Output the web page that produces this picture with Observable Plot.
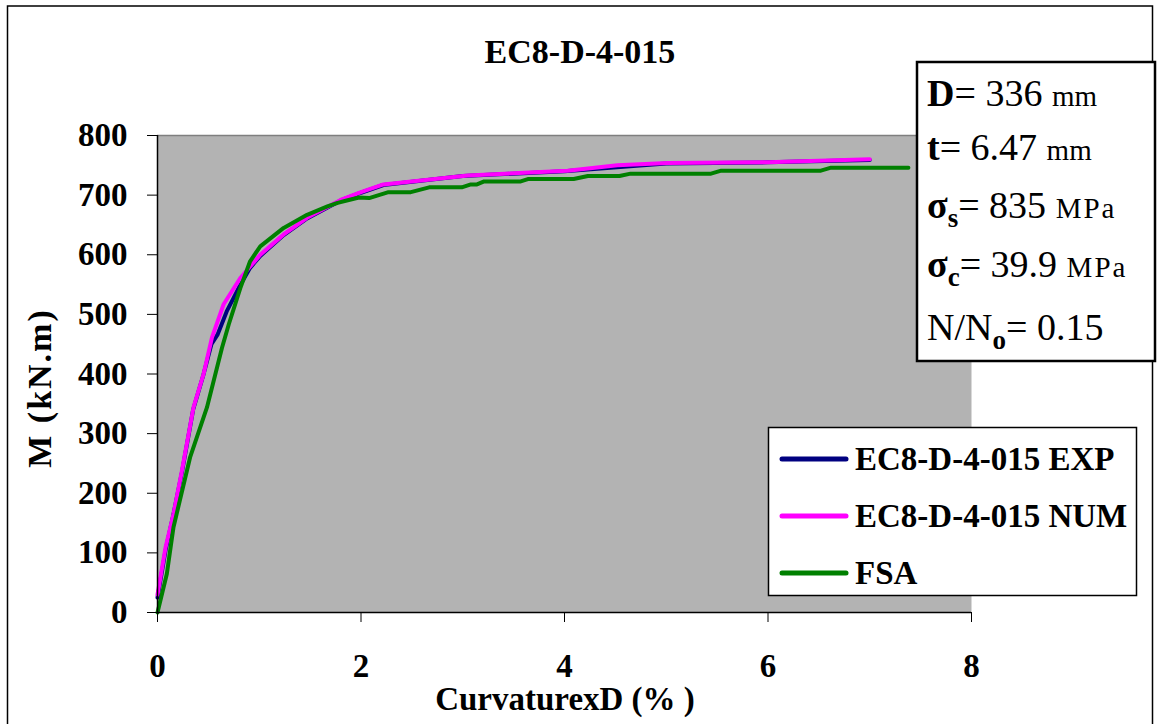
<!DOCTYPE html>
<html><head><meta charset="utf-8">
<script src="https://cdn.jsdelivr.net/npm/d3@7"></script>
<script src="https://cdn.jsdelivr.net/npm/@observablehq/plot@0.6"></script>
<style>
body{margin:0;background:#fff;}
#wrap{position:relative;width:1160px;height:724px;overflow:hidden;font-family:"Liberation Serif","Times New Roman",serif;color:#000;background:#fff;}
#chart{position:absolute;left:0;top:0;}
#over{position:absolute;left:0;top:0;}
</style></head><body>
<div id="wrap"><div id="chart"></div>
<svg id="over" width="1160" height="724" font-family="Liberation Serif, Times New Roman, serif"></svg>
</div>
<script>
// ---- data (curvature x D in %, moment in kN.m) ----
const expX = [0, 0.08, 0.157, 0.24, 0.35, 0.45, 0.53, 0.59, 0.68, 0.8, 0.91, 1.01, 1.24, 1.47, 1.8, 2.0, 2.22, 3.0, 4.0, 5.0, 6.0, 7.0];
const expM = [25, 105, 165, 235, 340, 398, 450, 466, 505, 545, 578, 598, 633, 661, 691, 704, 717, 732, 740, 753, 755, 759];
const numX = [0, 0.08, 0.157, 0.24, 0.354, 0.453, 0.535, 0.65, 0.814, 1.01, 1.24, 1.47, 1.8, 2.0, 2.22, 3.05, 4.03, 4.52, 5.01, 6.0, 7.0];
const numM = [30, 110, 165, 238, 344, 400, 461, 517, 561, 600, 634, 662, 692, 705, 718, 733, 741, 750, 754, 755, 760];
const fsaX = [0, 0.092, 0.157, 0.32, 0.486, 0.634, 0.7, 0.814, 0.91, 1.01, 1.24, 1.47, 1.67, 1.77, 1.86, 1.98, 2.08, 2.27, 2.49, 2.67, 2.99, 3.08, 3.14, 3.21, 3.57, 3.64, 4.09, 4.23, 4.54, 4.65, 5.44, 5.54, 6.52, 6.62, 7.38];
const fsaM = [0, 65, 143, 260, 344, 444, 483, 544, 589, 614, 645, 667, 681, 687, 691, 696, 695, 705, 705, 713, 713, 718, 718, 723, 723, 727, 727, 732, 732, 736, 736, 741, 741, 746, 746];
const seriesNames = ["EC8-D-4-015 EXP", "EC8-D-4-015 NUM", "FSA"];
const seriesColors = ["#000080", "#ff00ff", "#008000"];
const xTicks = [0, 2, 4, 6, 8];
const yTicks = [0, 100, 200, 300, 400, 500, 600, 700, 800];
const title = "EC8-D-4-015";
const xLabel = "CurvaturexD (% )";
const yLabel = "M (kN.m)";

const toRows = (xs, ms) => xs.map((x, i) => ({x, m: ms[i]}));
const data = [toRows(expX, expM), toRows(numX, numM), toRows(fsaX, fsaM)];

const font = {fontFamily: "Liberation Serif, Times New Roman, serif", fontSize: 33, fontWeight: "bold"};
const plot = Plot.plot({
  width: 1160, height: 724,
  marginLeft: 157, marginRight: 189, marginTop: 135, marginBottom: 112,
  x: {domain: [0, 8]},
  y: {domain: [0, 800]},
  style: {background: "transparent", color: "#000", overflow: "visible"},
  marks: [
    Plot.frame({fill: "#b3b3b3", stroke: null}),
    Plot.ruleY([800], {stroke: "#7f7f7f", strokeWidth: 1.5}),
    ...data.map((d, i) => Plot.line(d, {x: "x", y: "m", stroke: seriesColors[i], strokeWidth: 4, strokeLinejoin: "round", strokeLinecap: "round"})),
    Plot.ruleX([0], {stroke: "#000", strokeWidth: 1.5}),
    Plot.ruleY([0], {stroke: "#000", strokeWidth: 1.5}),
    Plot.axisX({ticks: xTicks, tickSize: 10, tickPadding: 31, label: null, tickFormat: d => d, ...font}),
    Plot.axisY({ticks: yTicks, tickSize: 10, tickPadding: 20, label: null, tickFormat: d => d, ...font})
  ]
});
document.getElementById("chart").appendChild(plot);

// ---- overlays: border, title, axis labels, info box, legend ----
const svg = d3.select("#over");
svg.append("rect").attr("x", 7.5).attr("y", 6).attr("width", 1145).attr("height", 740)
  .attr("fill", "none").attr("stroke", "#000").attr("stroke-width", 1.5);
svg.append("text").attr("x", 580).attr("y", 63).attr("text-anchor", "middle")
  .attr("font-size", 34).attr("font-weight", "bold").text(title);
svg.append("text").attr("x", 565).attr("y", 710).attr("text-anchor", "middle")
  .attr("font-size", 33).attr("font-weight", "bold").text(xLabel);
svg.append("text").attr("transform", "translate(51,388) rotate(-90)").attr("text-anchor", "middle")
  .attr("font-size", 34).attr("font-weight", "bold").attr("letter-spacing", 2).text(yLabel);

// info box
svg.append("rect").attr("x", 917).attr("y", 62).attr("width", 238).attr("height", 299)
  .attr("fill", "#fff").attr("stroke", "#000").attr("stroke-width", 2.5);
const info = [
  {b: "D", sub: null, rest: "= 336 ", unit: "mm", y: 106},
  {b: "t", sub: null, rest: "= 6.47 ", unit: "mm", y: 160},
  {b: "σ", sub: "s", rest: "= 835 ", unit: "MPa", y: 218},
  {b: "σ", sub: "c", rest: "= 39.9 ", unit: "MPa", y: 277},
  {b: "N/N", sub: "o", rest: "= 0.15", unit: "", y: 340, regular: true}
];
for (const r of info) {
  const t = svg.append("text").attr("x", 927).attr("y", r.y).attr("font-size", 38);
  t.append("tspan").attr("font-weight", r.regular ? "normal" : "bold").text(r.b);
  if (r.sub) t.append("tspan").attr("font-weight", "bold").attr("font-size", 27).attr("dy", 9).text(r.sub);
  t.append("tspan").attr("dy", r.sub ? -9 : 0).text(r.rest);
  if (r.unit) t.append("tspan").attr("font-size", 29).attr("letter-spacing", r.unit === "MPa" ? 2 : 0).text(r.unit);
}

// legend
svg.append("rect").attr("x", 768.5).attr("y", 427.5).attr("width", 368).attr("height", 168)
  .attr("fill", "#fff").attr("stroke", "#000").attr("stroke-width", 1.5);
seriesNames.forEach((name, i) => {
  const cy = 459 + i * 57;
  svg.append("line").attr("x1", 782).attr("x2", 846).attr("y1", cy).attr("y2", cy)
    .attr("stroke", seriesColors[i]).attr("stroke-width", 5).attr("stroke-linecap", "round");
  svg.append("text").attr("x", 855).attr("y", cy + 11).attr("font-size", 33).attr("font-weight", "bold").text(name);
});
</script>
</body></html>
